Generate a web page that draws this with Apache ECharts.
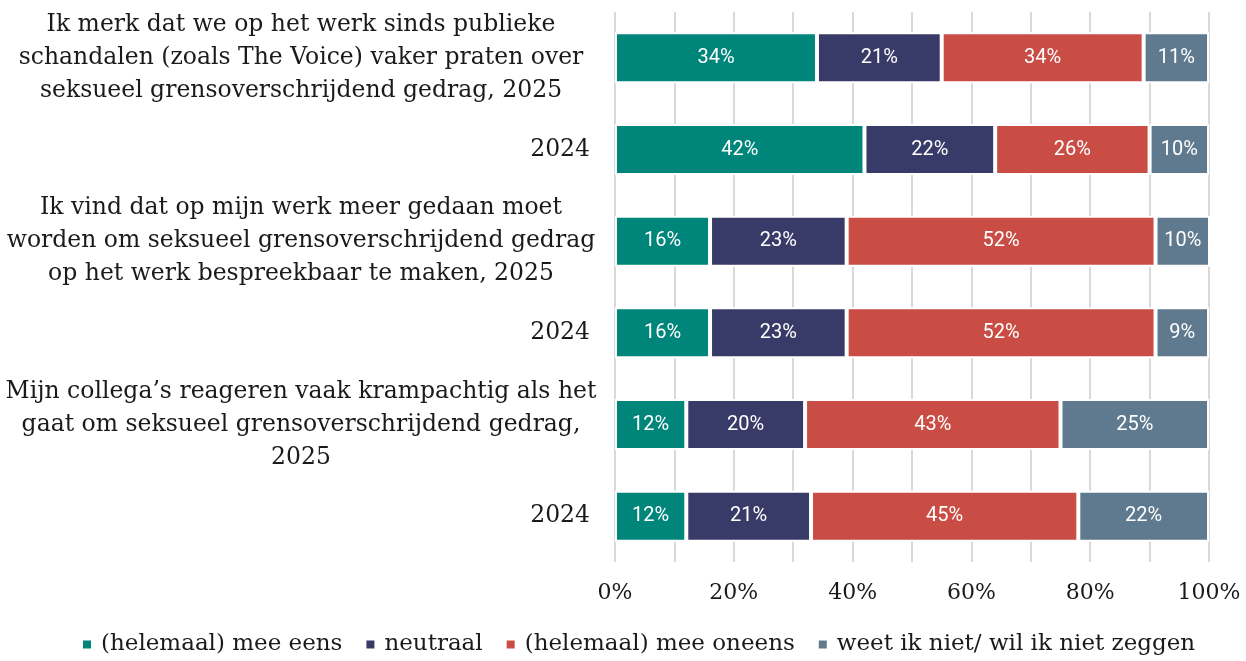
<!DOCTYPE html>
<html>
<head>
<meta charset="utf-8">
<script src="https://cdn.jsdelivr.net/npm/echarts@6/dist/echarts.min.js"></script>
<style>
  html, body { margin: 0; padding: 0; background: #fff; }
  #chart { width: 1246px; height: 661px; }
</style>
</head>
<body>
<div id="chart"></div>
<script>
// Statements (top to bottom); lines separated by \n
var categories = [
  'Ik merk dat we op het werk sinds publieke\nschandalen (zoals The Voice) vaker praten over\nseksueel grensoverschrijdend gedrag, 2025',
  '2024',
  'Ik vind dat op mijn werk meer gedaan moet\nworden om seksueel grensoverschrijdend gedrag\nop het werk bespreekbaar te maken, 2025',
  '2024',
  'Mijn collega\u2019s reageren vaak krampachtig als het\ngaat om seksueel grensoverschrijdend gedrag,\n2025',
  '2024'
];

var seriesNames = [
  '(helemaal) mee eens',
  'neutraal',
  '(helemaal) mee oneens',
  'weet ik niet/ wil ik niet zeggen'
];

// Percentages per answer, in the order of categories
var meeEens   = [34, 42, 16, 16, 12, 12];
var neutraal  = [21, 22, 23, 23, 20, 21];
var meeOneens = [34, 26, 52, 52, 43, 45];
var weetNiet  = [11, 10, 10, 9, 25, 22];

var xTicks = [0, 20, 40, 60, 80, 100];

var colors = ['#00857a', '#383b67', '#c94d44', '#5f7a8e'];

var serif = '"DejaVu Serif", serif';
var sans = 'Roboto, "Noto Sans", sans-serif';

var values = [meeEens, neutraal, meeOneens, weetNiet];

var series = seriesNames.map(function (name, i) {
  return {
    name: name,
    type: 'bar',
    stack: 'total',
    barWidth: 51,
    data: values[i],
    itemStyle: { color: colors[i], borderColor: '#fff', borderWidth: 2 },
    label: {
      show: true,
      position: 'inside',
      color: '#fff',
      fontFamily: sans,
      fontSize: 20,
      fontWeight: 'normal',
      formatter: function (p) { return p.value + '%'; }
    }
  };
});

var chart = echarts.init(document.getElementById('chart'));
chart.setOption({
  animation: false,
  color: colors,
  grid: { left: 615, right: 37, top: 12, bottom: 99, containLabel: false },
  xAxis: {
    type: 'value',
    min: 0,
    max: 100,
    interval: 10,
    axisLine: { show: false },
    axisTick: { show: false },
    splitLine: { show: true, lineStyle: { color: '#d9d9d9', width: 2 } },
    axisLabel: {
      margin: 20,
      fontFamily: serif,
      fontSize: 22,
      color: '#1a1a1a',
      formatter: function (v) { return xTicks.indexOf(v) >= 0 ? v + '%' : ''; }
    }
  },
  yAxis: {
    type: 'category',
    inverse: true,
    data: categories,
    axisLine: { show: false },
    axisTick: { show: false },
    axisLabel: {
      margin: 25,
      align: 'right',
      formatter: function (v) {
        var lines = v.split('\n');
        if (lines.length === 1) return '{r|' + v + '}';
        return lines.map(function (l) { return '{c|' + l + '}'; }).join('\n');
      },
      rich: {
        c: { fontFamily: serif, fontSize: 23.5, lineHeight: 33, color: '#1a1a1a', width: 578, align: 'center' },
        r: { fontFamily: serif, fontSize: 23.5, lineHeight: 33, color: '#1a1a1a', align: 'right' }
      }
    }
  },
  legend: {
    bottom: 0,
    left: 76,
    icon: 'rect',
    itemWidth: 10,
    itemHeight: 10,
    itemGap: 22,
    textStyle: { fontFamily: serif, fontSize: 23, color: '#1a1a1a', padding: [0, 0, 0, 4] },
    data: seriesNames
  },
  series: series
});
</script>
</body>
</html>
